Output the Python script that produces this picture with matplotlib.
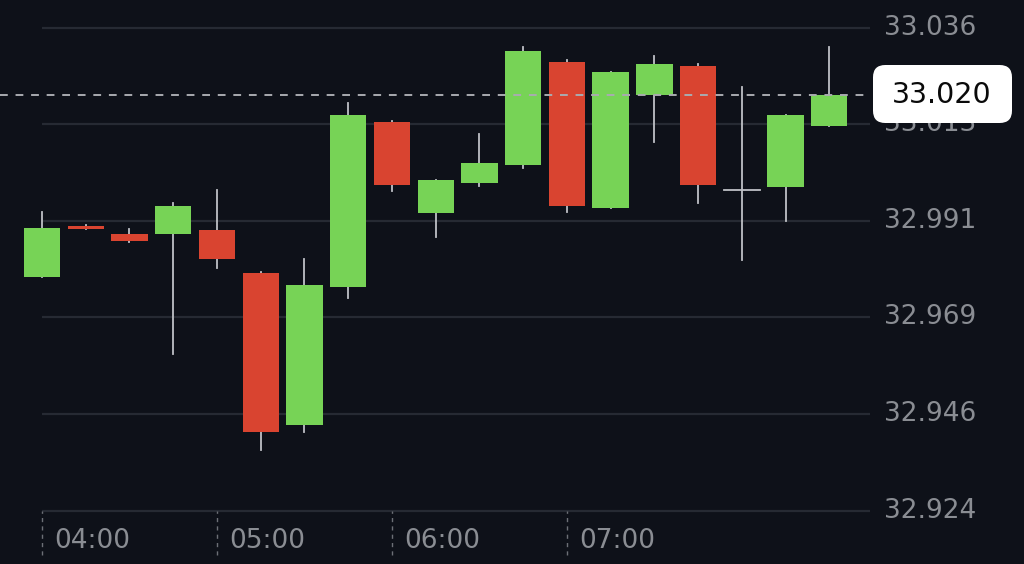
import matplotlib
matplotlib.use("Agg")
import matplotlib.pyplot as plt
from matplotlib.patches import FancyBboxPatch

# ---- data (15-minute candles) ----
times = ["04:00", "04:15", "04:30", "04:45", "05:00", "05:15", "05:30", "05:45",
         "06:00", "06:15", "06:30", "06:45", "07:00", "07:15", "07:30", "07:45",
         "08:00", "08:15", "08:30"]
opens  = [32.9779, 32.9898, 32.9879, 32.9879, 32.9888, 32.9788, 32.9436, 32.9757,
          33.0139, 32.9929, 32.9998, 33.0039, 33.0279, 32.9940, 33.0201, 33.0270,
          32.9981, 32.9988, 33.0129]
highs  = [32.9931, 32.9900, 32.9890, 32.9951, 32.9981, 32.9791, 32.9821, 33.0183,
          33.0142, 33.0005, 33.0111, 33.0314, 33.0283, 33.0255, 33.0292, 33.0273,
          33.0221, 33.0155, 33.0314]
lows   = [32.9779, 32.9891, 32.9861, 32.9600, 32.9800, 32.9379, 32.9419, 32.9730,
          32.9980, 32.9872, 32.9991, 33.0032, 32.9931, 32.9940, 33.0092, 32.9952,
          32.9819, 32.9910, 33.0129]
closes = [32.9893, 32.9892, 32.9863, 32.9944, 32.9822, 32.9421, 32.9761, 33.0155,
          32.9993, 33.0005, 33.0043, 33.0304, 32.9944, 33.0254, 33.0274, 32.9992,
          32.9981, 33.0155, 33.0201]
hour_labels = ["04:00", "05:00", "06:00", "07:00"]
ytick_values = [32.9238, 32.9462, 32.9686, 32.9910, 33.0134, 33.0358]
ytick_labels = ["32.924", "32.946", "32.969", "32.991", "33.013", "33.036"]
last_price = 33.0201
last_label = "33.020"

BG = "#0e1119"
GREEN = "#77d356"
RED = "#d94430"
WICK = "#bfc1c6"
GRID = "#262a33"
TXT = "#8a8d93"

fig = plt.figure(figsize=(10.24, 5.64), dpi=100, facecolor=BG)
ax = fig.add_axes([0, 0, 870 / 1024, 1])
ax.set_facecolor(BG)
for s in ax.spines.values():
    s.set_visible(False)

n = len(times)
xs = list(range(n))
ax.set_xlim(-0.96, 18.93)
ax.set_ylim(32.9114, 33.0422)

# grid lines
for v in ytick_values:
    ax.plot([0, 18.93], [v, v], color=GRID, lw=1.6, zorder=0, solid_capstyle="butt")

# candles
bw = 0.83
for i in xs:
    o, h, l, c = opens[i], highs[i], lows[i], closes[i]
    ax.plot([i, i], [l, h], color=WICK, lw=1.3, zorder=1)
    if abs(c - o) < 1e-6:
        ax.plot([i - bw / 2, i + bw / 2], [o, o], color=WICK, lw=1.3, zorder=2)
        continue
    col = GREEN if c > o else RED
    ax.bar(i, abs(c - o), bottom=min(o, c), width=bw, color=col, zorder=2,
           linewidth=0)

# current price dashed line
ax.plot([-0.96, 18.93], [last_price, last_price], color="#a9abb0", lw=1.4,
        dashes=(4, 4), zorder=3)

# hour separators and labels
ax.set_xticks([])
ax.set_yticks([])
for k, lab in enumerate(hour_labels):
    xi = times.index(lab)
    ax.plot([xi, xi], [32.9135, 32.9238], color="#6c6f76", lw=1.0,
            dashes=(3, 3), zorder=1)
    ax.text(xi + 0.29, 32.9167, lab, color=TXT, fontsize=19,
            ha="left", va="center", family="DejaVu Sans")

# y labels on right
for v, lab in zip(ytick_values, ytick_labels):
    ax.text(18.93 + 0.32, v, lab, color=TXT, fontsize=19, ha="left",
            va="center", clip_on=False)

# last-price badge
box = FancyBboxPatch((873 / 1024, (564 - 123) / 564), (1012 - 873) / 1024,
                     58 / 564, boxstyle="round,pad=0,rounding_size=0.012",
                     transform=fig.transFigure, facecolor="white",
                     edgecolor="none", zorder=5, mutation_aspect=1024 / 564)
fig.patches.append(box)
fig.text(942 / 1024, (564 - 95) / 564, last_label, color="#0a0a0a",
         fontsize=20.5, ha="center", va="center", zorder=6)

fig.savefig("out.png", dpi=100, facecolor=BG)
